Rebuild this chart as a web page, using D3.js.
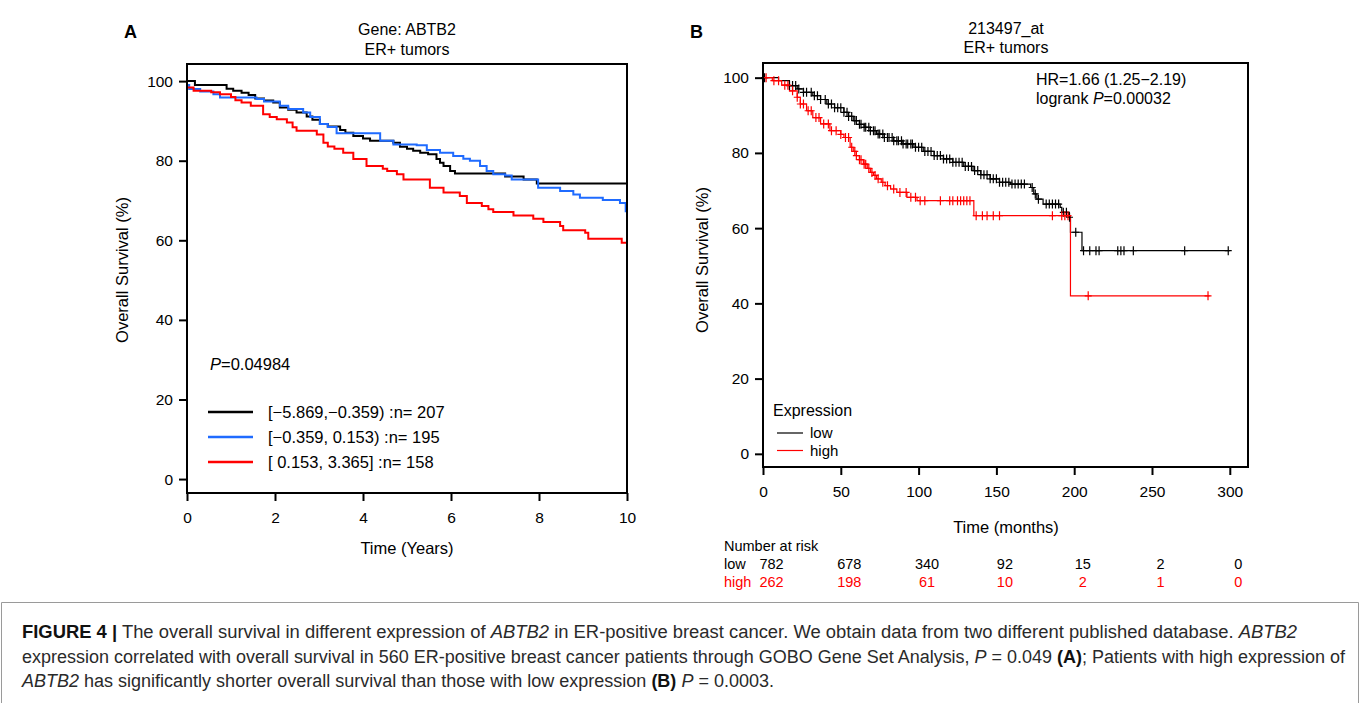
<!DOCTYPE html>
<html><head><meta charset="utf-8">
<script src="https://cdn.jsdelivr.net/npm/d3@7/dist/d3.min.js"></script>
<style>
body{margin:0;background:#fff;}
text{font-family:"Liberation Sans",Arial,sans-serif;}
</style></head>
<body>
<svg id="c" width="1360" height="703"></svg>
<script>
// ---------- DATA ----------
// Panel A: Kaplan-Meier steps [years, survival %]
const kmA_low = [[0,100],[0.18,99.0],[0.9,98.1],[1.05,97.6],[1.24,97.1],[1.4,96.5],[1.55,95.6],[1.75,95.1],[1.96,94.6],[2.11,93.4],[2.3,92.8],[2.49,92.1],[2.72,91.1],[2.85,90.3],[3.02,89.2],[3.2,88.6],[3.48,87.7],[3.6,87.0],[3.78,86.2],[4.0,85.6],[4.16,85.0],[4.69,84.5],[4.84,83.5],[5.0,83.0],[5.14,82.5],[5.3,82.0],[5.48,81.6],[5.67,80.4],[5.75,79.5],[5.83,78.7],[5.98,77.4],[6.09,76.8],[7.23,76.0],[7.65,75.3],[7.95,74.3]];
const kmA_mid = [[0,99.0],[0.05,98.0],[0.3,97.4],[0.6,96.7],[0.75,95.9],[1.58,95.5],[1.75,94.9],[2.11,93.8],[2.3,93.0],[2.64,92.1],[2.8,91.0],[3.02,89.2],[3.2,88.5],[3.4,86.9],[4.39,85.0],[4.69,84.1],[5.22,83.9],[5.45,82.7],[5.75,82.0],[6.05,81.2],[6.28,80.5],[6.43,80.0],[6.66,78.7],[6.81,77.4],[6.96,76.6],[7.23,76.3],[7.38,75.3],[7.98,73.2],[8.48,72.4],[8.78,71.5],[8.93,70.7],[9.45,70.1],[9.84,69.4],[9.97,67.3]];
const kmA_high = [[0,98.4],[0.15,97.6],[0.55,97.2],[0.75,96.7],[1.0,96.0],[1.1,95.2],[1.24,94.6],[1.45,93.8],[1.73,91.7],[1.88,91.0],[2.04,90.4],[2.27,89.6],[2.4,88.4],[2.49,87.5],[2.95,86.6],[3.1,84.5],[3.2,83.6],[3.35,83.0],[3.55,82.0],[3.78,80.4],[4.08,78.7],[4.45,78.0],[4.55,77.4],[4.77,76.6],[4.92,75.3],[5.52,73.2],[5.83,72.0],[6.2,71.1],[6.36,69.4],[6.7,68.6],[6.85,67.8],[6.96,67.1],[7.42,66.2],[7.87,65.4],[8.1,64.6],[8.48,63.6],[8.55,62.5],[9.05,61.9],[9.12,60.4],[9.88,59.4]];
const endA = [10, 10, 10];
const legendA = ["[\u22125.869,\u22120.359) :n= 207", "[\u22120.359, 0.153) :n= 195", "[ 0.153, 3.365] :n= 158"];
const colorsA = ["#000000", "#1f6bff", "#ff0000"];
const xTicksA = [0, 2, 4, 6, 8, 10];
const yTicks = [0, 20, 40, 60, 80, 100];

// Panel B: Kaplan-Meier steps [months, survival %]
const kmB_low = [[0,100],[10,99.2],[17,97.9],[22,97.0],[26,96.1],[32,95.2],[37,94.2],[41,93.0],[46,92.0],[52,90.8],[55,89.7],[58,88.6],[62,87.6],[65,86.8],[69,85.9],[73,85.0],[78,84.1],[84,83.2],[90,82.4],[97,81.5],[103,80.4],[110,79.3],[116,78.4],[122,77.5],[129,76.4],[135,75.3],[140,74.2],[146,73.1],[152,72.2],[159,71.7],[172,70.8],[174,69.1],[176,67.7],[180,66.4],[191,65.5],[192,64.2],[196.5,62.9],[197.6,58.9],[205,54.0]];
const kmB_high = [[0,100],[6,99.2],[12,98.0],[17,96.5],[22,94.8],[24,93.0],[28,91.2],[32,89.4],[37,87.7],[43,85.9],[50,84.9],[52,84.1],[56,81.5],[58,80.4],[60,79.3],[62,78.2],[64.5,77.0],[67,75.9],[69,74.8],[71,74.0],[73,73.1],[76,72.2],[78.5,71.3],[82,70.4],[86,69.5],[92.5,68.2],[99,67.3],[135.5,63.3],[197.6,42.0]];
const endB = [300, 287];
const censB_low = [1,17,19,21,23,26,28,31,33,35,37,40,42,44,46,48,50,52,54,55,57,59,60,62,63,65,66,68,69,71,72,74,75,77,78,80,81,83,84,86,87,89,90,92,93,95,96,98,100,102,104,106,108,110,112,114,116,118,120,122,124,126,128,130,132,134,136,138,140,142,144,146,148,150,152,154,156,158,160,162,164,166,168,173,175,177,182,184,186,188,190,193,195,197,201,206,210,214,216,228,230,232,238,271,299];
const censB_high = [2,7,10,14,16,19,22,24,26,29,31,34,36,39,42,44,47,50,53,55,57,59,60,62,63,65,66,68,70,72,74,77,80,84,88,92,95,98,101,104,114,120,122,125,127,129,131,133,137,141,144,148,152,186,192,194,196,209,286];
const colorsB = ["#000000", "#ff0000"];
const groupsB = ["low", "high"];
const xTicksB = [0, 50, 100, 150, 200, 250, 300];
const riskTimes = [0, 50, 100, 150, 200, 250, 300];
const riskLow = [782, 678, 340, 92, 15, 2, 0];
const riskHigh = [262, 198, 61, 10, 2, 1, 0];

// ---------- DRAW ----------
const svg = d3.select("#c");
const fs = 15.5;

function survAt(series, t){ let s = series[0][1]; for (const p of series){ if (p[0] <= t) s = p[1]; } return s; }

// ===== Panel A =====
const xA = d3.scaleLinear().domain([0,10]).range([187,627]);
const yA = d3.scaleLinear().domain([-3.5,104.3]).range([493,64]);
const gA = svg.append("g");

const stepLine = (xs, ys) => d3.line().x(d=>xs(d[0])).y(d=>ys(d[1])).curve(d3.curveStepAfter);

[kmA_low, kmA_mid, kmA_high].forEach((s,i)=>{
  const pts = s.concat([[endA[i], s[s.length-1][1]]]);
  gA.append("path").attr("d", stepLine(xA,yA)(pts)).attr("fill","none")
    .attr("stroke", colorsA[i]).attr("stroke-width", 2);
});
gA.append("rect").attr("x",xA(0)).attr("y",yA(104.3)).attr("width",xA(10)-xA(0)).attr("height",yA(-3.5)-yA(104.3))
  .attr("fill","none").attr("stroke","#000").attr("stroke-width",2);

const axAy = gA.append("g").attr("transform",`translate(${xA(0)},0)`)
  .call(d3.axisLeft(yA).tickValues(yTicks).tickSize(8).tickPadding(6));
const axAx = gA.append("g").attr("transform",`translate(0,${yA(-3.5)})`)
  .call(d3.axisBottom(xA).tickValues(xTicksA).tickSize(8).tickPadding(11));
[axAy, axAx].forEach(a=>{ a.select(".domain").remove(); a.selectAll("line").attr("stroke-width",2);
  a.selectAll("text").attr("font-size",fs).attr("fill","#000"); });

gA.append("text").attr("x",124).attr("y",38).attr("font-size",18).attr("font-weight","bold").text("A");
gA.append("text").attr("x",407).attr("y",35).attr("text-anchor","middle").attr("font-size",16).text("Gene: ABTB2");
gA.append("text").attr("x",407).attr("y",55).attr("text-anchor","middle").attr("font-size",16).text("ER+ tumors");
gA.append("text").attr("transform","translate(128,270) rotate(-90)").attr("text-anchor","middle").attr("font-size",16.5).text("Overall Survival (%)");
gA.append("text").attr("x",407).attr("y",554).attr("text-anchor","middle").attr("font-size",16.5).text("Time (Years)");
const pA = gA.append("text").attr("x",210).attr("y",370).attr("font-size",16.5);
pA.append("tspan").attr("font-style","italic").text("P");
pA.append("tspan").text("=0.04984");
legendA.forEach((t,i)=>{
  const y = 412 + i*25;
  gA.append("line").attr("x1",208).attr("x2",253).attr("y1",y).attr("y2",y).attr("stroke",colorsA[i]).attr("stroke-width",2.5);
  gA.append("text").attr("x",268).attr("y",y+6).attr("font-size",16.5).text(t);
});

// ===== Panel B =====
const xB = d3.scaleLinear().domain([0,311.7]).range([763,1248]);
const yB = d3.scaleLinear().domain([-3.5,103.9]).range([467,63]);
const gB = svg.append("g");

[kmB_low, kmB_high].forEach((s,i)=>{
  const pts = s.concat([[endB[i], s[s.length-1][1]]]);
  gB.append("path").attr("d", stepLine(xB,yB)(pts)).attr("fill","none")
    .attr("stroke", colorsB[i]).attr("stroke-width", 1.2);
});
[[kmB_low, censB_low],[kmB_high, censB_high]].forEach(([s,c],i)=>{
  gB.append("g").selectAll("path").data(c).join("path")
    .attr("d", t=>{ const x=xB(t), y=yB(survAt(s,t)); return `M${x-3.5},${y}H${x+3.5}M${x},${y-4.5}V${y+4.5}`; })
    .attr("stroke", colorsB[i]).attr("stroke-width",1.2).attr("fill","none");
});
gB.append("rect").attr("x",xB(0)).attr("y",yB(103.9)).attr("width",xB(311.7)-xB(0)).attr("height",yB(-3.5)-yB(103.9))
  .attr("fill","none").attr("stroke","#000").attr("stroke-width",2);
const axBy = gB.append("g").attr("transform",`translate(${xB(0)},0)`)
  .call(d3.axisLeft(yB).tickValues(yTicks).tickSize(8).tickPadding(6));
const axBx = gB.append("g").attr("transform",`translate(0,${yB(-3.5)})`)
  .call(d3.axisBottom(xB).tickValues(xTicksB).tickSize(8).tickPadding(11));
[axBy, axBx].forEach(a=>{ a.select(".domain").remove(); a.selectAll("line").attr("stroke-width",2);
  a.selectAll("text").attr("font-size",fs).attr("fill","#000"); });

gB.append("text").attr("x",690).attr("y",38).attr("font-size",18).attr("font-weight","bold").text("B");
gB.append("text").attr("x",1006).attr("y",34).attr("text-anchor","middle").attr("font-size",16).text("213497_at");
gB.append("text").attr("x",1006).attr("y",53).attr("text-anchor","middle").attr("font-size",16).text("ER+ tumors");
gB.append("text").attr("transform","translate(708,260) rotate(-90)").attr("text-anchor","middle").attr("font-size",16.5).text("Overall Survival (%)");
gB.append("text").attr("x",1006).attr("y",533).attr("text-anchor","middle").attr("font-size",16.5).text("Time (months)");
gB.append("text").attr("x",1036).attr("y",85).attr("font-size",16).text("HR=1.66 (1.25\u22122.19)");
const pB = gB.append("text").attr("x",1036).attr("y",104).attr("font-size",16);
pB.append("tspan").text("logrank ");
pB.append("tspan").attr("font-style","italic").text("P");
pB.append("tspan").text("=0.00032");
gB.append("text").attr("x",773).attr("y",416).attr("font-size",16).text("Expression");
groupsB.forEach((g,i)=>{
  const y = 433 + i*17.5;
  gB.append("line").attr("x1",777).attr("x2",803).attr("y1",y).attr("y2",y).attr("stroke",colorsB[i]).attr("stroke-width",1.2);
  gB.append("text").attr("x",810).attr("y",y+5).attr("font-size",15).text(g);
});
// number at risk
gB.append("text").attr("x",724).attr("y",551).attr("font-size",14.5).text("Number at risk");
[[riskLow,"low","#000"],[riskHigh,"high","#ff0000"]].forEach(([vals,lab,col],i)=>{
  const y = 569 + i*17.5;
  gB.append("text").attr("x",724).attr("y",y).attr("font-size",14.5).attr("fill",col).text(lab);
  vals.forEach((v,j)=>{
    gB.append("text").attr("x",xB(riskTimes[j])+8.5).attr("y",y).attr("text-anchor","middle")
      .attr("font-size",14.5).attr("fill",col).text(v);
  });
});

// ===== Caption =====
svg.append("path").attr("d","M1.5,720V602.5H1358.5V720").attr("fill","none").attr("stroke","#9a9a9a").attr("stroke-width",1);
const capLines = [
  {y:638, len:1275, parts:[["FIGURE 4 |","b"],[" The overall survival in different expression of ",""],["ABTB2","i"],[" in ER-positive breast cancer. We obtain data from two different published database. ",""],["ABTB2","i"]]},
  {y:663, len:1323, parts:[["expression correlated with overall survival in 560 ER-positive breast cancer patients through GOBO Gene Set Analysis, ",""],["P","i"],[" = 0.049 ",""],["(A)","b"],["; Patients with high expression of",""]]},
  {y:687, len:752, parts:[["ABTB2","i"],[" has significantly shorter overall survival than those with low expression ",""],["(B)","b"],[" ",""],["P","i"],[" = 0.0003.",""]]}
];
capLines.forEach(L=>{
  const t = svg.append("text").attr("x",22).attr("y",L.y).attr("font-size",18)
    .attr("fill","#2a2a2a")
    .attr("textLength",L.len).attr("lengthAdjust","spacingAndGlyphs");
  L.parts.forEach(([s,st])=>{
    const ts = t.append("tspan").text(s);
    if (st==="b") ts.attr("font-weight","bold").attr("fill","#111");
    if (st==="i") ts.attr("font-style","italic");
  });
});
</script>
</body></html>
